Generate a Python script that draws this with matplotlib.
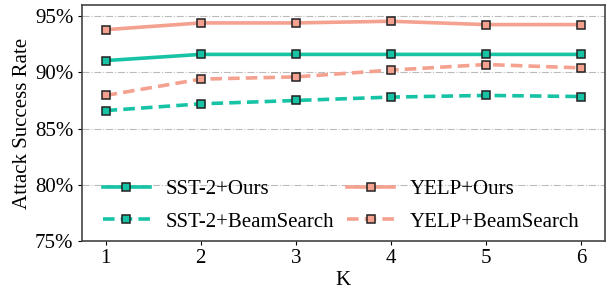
import matplotlib.pyplot as plt
import numpy as np
from matplotlib.ticker import FuncFormatter

plt.rcParams['font.family'] = ['Liberation Serif', 'DejaVu Serif']

K = [1, 2, 3, 4, 5, 6]
sst_ours = [91.05, 91.6, 91.6, 91.6, 91.6, 91.6]
sst_beam = [86.6, 87.2, 87.5, 87.8, 87.95, 87.85]
yelp_ours = [93.8, 94.4, 94.4, 94.55, 94.25, 94.25]
yelp_beam = [87.95, 89.4, 89.6, 90.2, 90.7, 90.4]

teal = '#17c3a5'
salmon = '#f4a190'

fig = plt.figure(figsize=(6.11, 2.91), dpi=100)
ax = fig.add_axes([0.134, 0.172, 0.856, 0.811])

mk = dict(marker='s', markersize=5.5, markeredgecolor='#222222', markeredgewidth=1.1, lw=2.6)
dash = (0, (3.2, 1.7))
ax.plot(K, sst_ours, color=teal, markerfacecolor=teal, label='SST-2+Ours', **mk)
ax.plot(K, yelp_ours, color=salmon, markerfacecolor=salmon, label='YELP+Ours', **mk)
ax.plot(K, sst_beam, color=teal, markerfacecolor=teal, ls=dash, label='SST-2+BeamSearch', **mk)
ax.plot(K, yelp_beam, color=salmon, markerfacecolor=salmon, ls=dash, label='YELP+BeamSearch', **mk)

ax.set_xlim(0.75, 6.25)
ax.set_ylim(75, 96)
ax.set_yticks([75, 80, 85, 90, 95])
ax.set_xticks(K)
ax.yaxis.set_major_formatter(FuncFormatter(lambda v, p: f'{v:.0f}%'))
ax.grid(axis='y', ls='-.', color='#bbbbbb', lw=0.8)
ax.set_axisbelow(True)
ax.tick_params(labelsize=15, direction='out', length=3, pad=3)
for s in ax.spines.values():
    s.set_color('#444444')
    s.set_linewidth(1.2)

ax.set_xlabel('K', fontsize=15, labelpad=2)
ax.set_ylabel('Attack Success Rate', fontsize=15, labelpad=2)

handles, labels = ax.get_legend_handles_labels()
order = [0, 2, 1, 3]
ax.legend([handles[i] for i in order], [labels[i] for i in order], ncol=2, frameon=False,
          loc='lower left', bbox_to_anchor=(0.04, 0.04), borderpad=0, borderaxespad=0,
          fontsize=15, handlelength=2.25, handletextpad=0.75,
          columnspacing=0.65, labelspacing=0.6)

fig.savefig('out.png', dpi=100)
